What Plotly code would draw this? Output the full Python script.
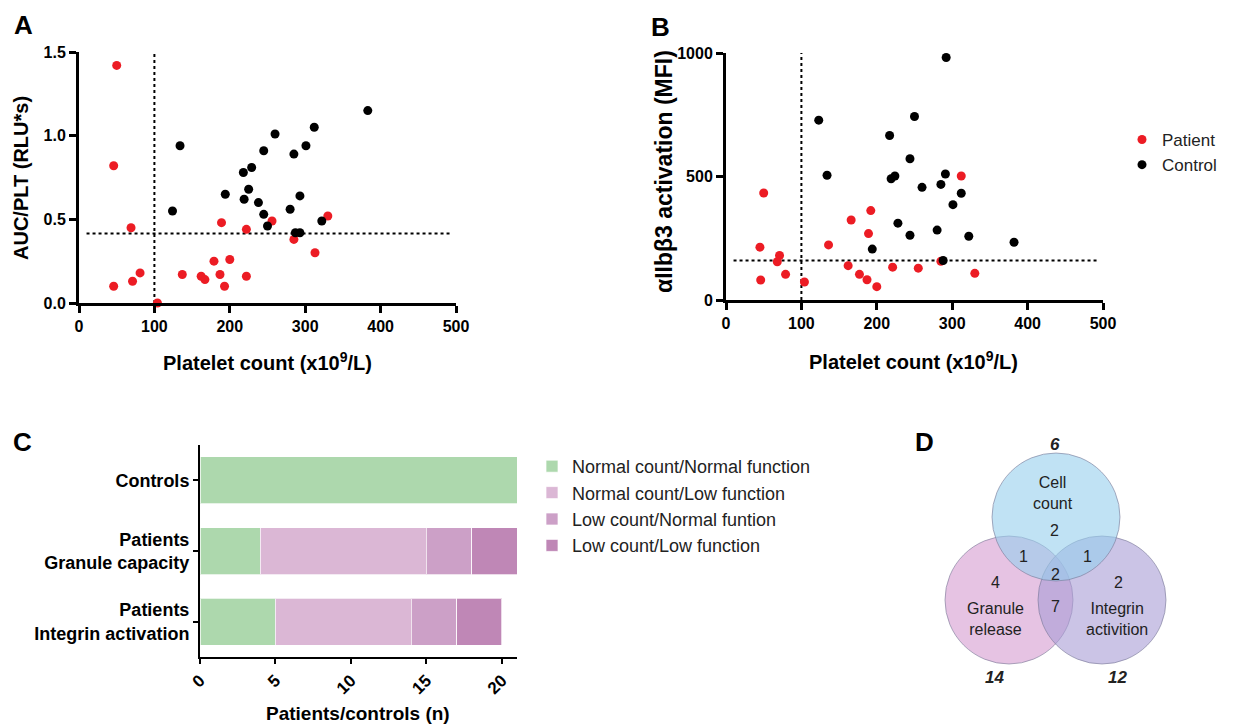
import plotly.graph_objects as go

# ---------------- DATA ----------------
# Panel A: granule release (AUC/PLT) vs platelet count
pa_x = [50, 46, 69, 46, 71, 81, 104, 137, 162, 167, 179, 187, 189, 193, 200, 222, 222, 256, 285, 313, 330]
pa_y = [1.42, 0.82, 0.45, 0.10, 0.13, 0.18, 0.00, 0.17, 0.16, 0.14, 0.25, 0.17, 0.48, 0.10, 0.26, 0.16, 0.44, 0.49, 0.38, 0.30, 0.52]
ca_x = [124, 134, 194, 218, 229, 225, 219, 238, 245, 245, 250, 260, 280, 285, 287, 293, 293, 301, 312, 322, 383]
ca_y = [0.55, 0.94, 0.65, 0.78, 0.81, 0.68, 0.62, 0.60, 0.53, 0.91, 0.46, 1.01, 0.56, 0.89, 0.42, 0.42, 0.64, 0.94, 1.05, 0.49, 1.15]

# Panel B: integrin activation (MFI) vs platelet count
pb_x = [50, 45, 71, 68, 46, 79, 104, 136, 162, 166, 177, 189, 192, 187, 200, 221, 255, 285, 312, 330]
pb_y = [433, 214, 180, 155, 81, 104, 73, 223, 139, 324, 104, 269, 362, 82, 54, 133, 129, 157, 502, 108]
cb_x = [123, 134, 194, 217, 219, 224, 228, 244, 244, 250, 260, 280, 285, 288, 291, 292, 301, 312, 322, 382]
cb_y = [728, 505, 206, 666, 491, 502, 311, 572, 262, 743, 456, 283, 468, 160, 510, 982, 386, 432, 258, 234]

# Cut-offs (dotted reference lines)
plt_cutoff = 100
auc_cutoff = 0.415
mfi_cutoff = 160
hline_span = [10, 493]

# Panel C: stacked counts
c_categories = ["Controls", "Patients<br>Granule capacity", "Patients<br>Integrin activation"]
c_series = ["Normal count/Normal function", "Normal count/Low function",
            "Low count/Normal funtion", "Low count/Low function"]
c_nn = [21, 4, 5]
c_nl = [0, 11, 9]
c_ln = [0, 3, 3]
c_ll = [0, 3, 3]

# Panel D: Venn region counts
venn_sets = ["Cell<br>count", "Granule<br>release", "Integrin<br>activition"]
venn_totals = [6, 14, 12]
venn_only = [2, 4, 2]            # cell only, granule only, integrin only
venn_pairs = [1, 1, 7]           # cell&granule, cell&integrin, granule&integrin
venn_all = 2

# ---------------- LAYOUT HELPERS ----------------
W, H = 1233, 726
def px(x):
    return x / W
def py(y):
    return 1 - y / H

FONT = "Liberation Sans"
RED = "#EC1C24"
C_COLORS = ["#ADD8AD", "#DBB7D5", "#CCA0C7", "#BF87B6"]

fig = go.Figure()

dot = dict(color="black", width=2, dash="dot")

# ---- Panel A ----
fig.add_trace(go.Scatter(x=[plt_cutoff, plt_cutoff], y=[0, 1.5], mode="lines", line=dot,
                         showlegend=False, hoverinfo="skip", xaxis="x", yaxis="y"))
fig.add_trace(go.Scatter(x=hline_span, y=[auc_cutoff, auc_cutoff], mode="lines", line=dot,
                         showlegend=False, hoverinfo="skip", xaxis="x", yaxis="y"))
fig.add_trace(go.Scatter(x=pa_x, y=pa_y, mode="markers", name="Patient",
                         marker=dict(color=RED, size=9), cliponaxis=False, xaxis="x", yaxis="y"))
fig.add_trace(go.Scatter(x=ca_x, y=ca_y, mode="markers", name="Control",
                         marker=dict(color="black", size=9), cliponaxis=False, xaxis="x", yaxis="y"))

# ---- Panel B ----
fig.add_trace(go.Scatter(x=[plt_cutoff, plt_cutoff], y=[0, 1000], mode="lines", line=dot,
                         showlegend=False, hoverinfo="skip", xaxis="x2", yaxis="y2"))
fig.add_trace(go.Scatter(x=hline_span, y=[mfi_cutoff, mfi_cutoff], mode="lines", line=dot,
                         showlegend=False, hoverinfo="skip", xaxis="x2", yaxis="y2"))
fig.add_trace(go.Scatter(x=pb_x, y=pb_y, mode="markers", name="Patient", showlegend=False,
                         marker=dict(color=RED, size=9), cliponaxis=False, xaxis="x2", yaxis="y2"))
fig.add_trace(go.Scatter(x=cb_x, y=cb_y, mode="markers", name="Control", showlegend=False,
                         marker=dict(color="black", size=9), cliponaxis=False, xaxis="x2", yaxis="y2"))

# ---- Panel C ----
for name, vals, col in zip(c_series, [c_nn, c_nl, c_ln, c_ll], C_COLORS):
    fig.add_trace(go.Bar(y=c_categories, x=vals, orientation="h", name=name, legend="legend2",
                         marker=dict(color=col, line=dict(color="rgba(255,255,255,0.7)", width=1)),
                         xaxis="x3", yaxis="y3"))

# ---- Panel D (Venn) ----
circles = [  # (cx, cy, r, fill) in pixel units of the Venn axis
    (1009, 600, 64, "rgba(214,155,208,0.6)"),
    (1102, 600, 64, "rgba(168,156,214,0.6)"),
    (1056, 517, 64, "rgba(150,206,236,0.6)"),
]
shapes = []
for cx, cy, r, col in circles:
    shapes.append(dict(type="circle", xref="x4", yref="y4", x0=cx - r, x1=cx + r, y0=cy - r, y1=cy + r,
                       fillcolor=col, line=dict(color="rgba(120,120,150,0.6)", width=1), layer="above"))

annotations = []
def ann(x, y, text, size=16, bold=False, italic=False, xref="x4", yref="y4", color="#222", **kw):
    t = text
    if bold:
        t = "<b>" + t + "</b>"
    if italic:
        t = "<i>" + t + "</i>"
    d = dict(x=x, y=y, xref=xref, yref=yref, text=t, showarrow=False,
             xanchor="center", yanchor="middle",
             font=dict(family=FONT, size=size, color=color))
    d.update(kw)
    annotations.append(d)

venn_font = 16
# set labels
ann(1053, 493, venn_sets[0], size=venn_font)
ann(995, 619, venn_sets[1], size=venn_font)
ann(1117, 619, venn_sets[2], size=venn_font)
# region counts
ann(1054, 530, str(venn_only[0]), size=venn_font)
ann(995, 582, str(venn_only[1]), size=venn_font)
ann(1118, 582, str(venn_only[2]), size=venn_font)
ann(1023, 556, str(venn_pairs[0]), size=venn_font)
ann(1087, 556, str(venn_pairs[1]), size=venn_font)
ann(1055, 606, str(venn_pairs[2]), size=venn_font)
ann(1055, 574, str(venn_all), size=venn_font)
# totals
ann(1055, 444, str(venn_totals[0]), size=17, bold=True, italic=True)
ann(994, 677, str(venn_totals[1]), size=17, bold=True, italic=True)
ann(1117, 677, str(venn_totals[2]), size=17, bold=True, italic=True)

# panel letters
for letter, x, y in [("A", 23, 25), ("B", 660, 27), ("C", 22, 442), ("D", 924, 442)]:
    ann(px(x), py(y), "<b>" + letter + "</b>", size=26, xref="paper", yref="paper", color="black")

# axis titles (as annotations for exact placement)
ann(px(267), py(361), "<b>Platelet count (x10<sup>9</sup>/L)</b>", size=20, xref="paper", yref="paper", color="black")
ann(px(21), py(178), "<b>AUC/PLT (RLU*s)</b>", size=20, xref="paper", yref="paper", color="black", textangle=-90)
ann(px(914), py(360), "<b>Platelet count (x10<sup>9</sup>/L)</b>", size=20, xref="paper", yref="paper", color="black")
ann(px(664), py(172), "<b>\u03b1IIb\u03b23 activation (MFI)</b>", size=23, xref="paper", yref="paper", color="black", textangle=-90)
ann(px(358), py(713), "<b>Patients/controls (n)</b>", size=19, xref="paper", yref="paper", color="black")

tickfont = dict(family=FONT, size=16, color="black", weight="bold")

def xy_axis(**kw):
    d = dict(showline=True, linecolor="black", linewidth=3, ticks="outside", ticklen=7, tickwidth=2.5,
             tickcolor="black", showgrid=False, zeroline=False, tickfont=tickfont, automargin=False,
             fixedrange=True)
    d.update(kw)
    return d

layout = dict(
    width=W, height=H, margin=dict(l=0, r=0, t=0, b=0, pad=0, autoexpand=False),
    paper_bgcolor="white", plot_bgcolor="rgba(0,0,0,0)",
    barmode="stack", bargap=0.335,
    showlegend=True,
    xaxis=xy_axis(domain=[px(79), px(456)], range=[0, 500], dtick=100, anchor="y"),
    yaxis=xy_axis(domain=[py(303), py(52)], range=[0, 1.5], tickvals=[0, 0.5, 1.0, 1.5],
                  ticktext=["0.0", "0.5", "1.0", "1.5"], anchor="x"),
    xaxis2=xy_axis(domain=[px(726), px(1103)], range=[0, 500], dtick=100, anchor="y2"),
    yaxis2=xy_axis(domain=[py(300), py(53)], range=[0, 1000], tickvals=[0, 500, 1000], anchor="x2"),
    xaxis3=xy_axis(domain=[px(200), px(517)], range=[0, 21], tickvals=[0, 5, 10, 15, 20], tickangle=-45,
                   linewidth=2, tickwidth=2, ticklen=5, anchor="y3",
                   tickfont=dict(family=FONT, size=17, color="black", weight="bold")),
    yaxis3=xy_axis(domain=[py(657), py(445)], range=[2.5, -0.5], type="category", anchor="x3",
                   linewidth=2, tickwidth=2, ticklen=5,
                   tickfont=dict(family=FONT, size=18, color="black", weight="bold")),
    xaxis4=dict(domain=[px(900), px(1220)], range=[900, 1220], visible=False, anchor="y4", fixedrange=True),
    yaxis4=dict(domain=[py(715), py(425)], range=[715, 425], visible=False, anchor="x4", fixedrange=True),
    legend=dict(x=px(1122), y=py(122), xanchor="left", yanchor="top", traceorder="normal",
                tracegroupgap=0, font=dict(family=FONT, size=17, color="#222"),
                bgcolor="rgba(0,0,0,0)", itemwidth=30),
    legend2=dict(x=px(532), y=py(448), xanchor="left", yanchor="top", traceorder="normal",
                 tracegroupgap=0, font=dict(family=FONT, size=18, color="#222"),
                 bgcolor="rgba(0,0,0,0)", itemwidth=30),
    shapes=shapes,
    annotations=annotations,
)
fig.update_layout(**layout)

fig.write_html("out.html", config={"displayModeBar": False})

# remove default body margin so the figure sits at the page origin
with open("out.html", "r", encoding="utf-8") as f:
    html = f.read()
html = html.replace("<body>", '<body style="margin:0;padding:0">', 1)
with open("out.html", "w", encoding="utf-8") as f:
    f.write(html)
